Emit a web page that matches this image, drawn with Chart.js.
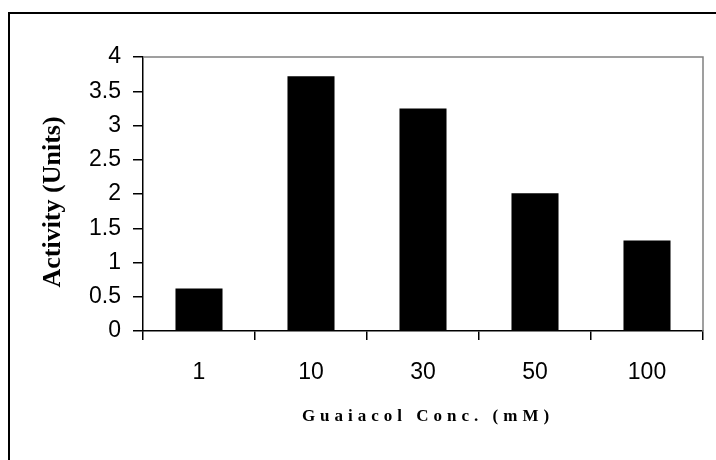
<!DOCTYPE html>
<html>
<head>
<meta charset="utf-8">
<script src="https://cdn.jsdelivr.net/npm/chart.js@4"></script>
<style>
html,body{margin:0;padding:0;background:#fff;}
#wrap{width:716px;height:460px;}
</style>
</head>
<body>
<div id="wrap"><canvas id="c" width="716" height="460"></canvas></div>
<script>
const categories = ['1', '10', '30', '50', '100'];
const activity = [0.62, 3.72, 3.25, 2.01, 1.32];
const yMin = 0, yMax = 4, yStep = 0.5;
const yTitle = 'Activity (Units)';
const xTitle = 'Guaiacol Conc. (mM)';

const framePlugin = {
  id: 'frame',
  beforeDraw(chart) {
    const ctx = chart.ctx;
    ctx.save();
    ctx.fillStyle = '#fff';
    ctx.fillRect(0, 0, chart.width, chart.height);
    ctx.strokeStyle = '#000';
    ctx.lineWidth = 2;
    ctx.strokeRect(9, 13, chart.width + 50, chart.height + 50);
    ctx.restore();
  },
  afterDraw(chart) {
    const ctx = chart.ctx;
    const a = chart.chartArea;
    ctx.save();
    ctx.strokeStyle = '#808080';
    ctx.lineWidth = 1.5;
    ctx.beginPath();
    ctx.moveTo(a.left, a.top);
    ctx.lineTo(a.right, a.top);
    ctx.lineTo(a.right, a.bottom);
    ctx.stroke();
    ctx.fillStyle = '#000';
    ctx.textAlign = 'center';
    ctx.textBaseline = 'middle';
    // y-axis title
    ctx.save();
    ctx.translate(53, (a.top + a.bottom) / 2 + 8);
    ctx.rotate(-Math.PI / 2);
    ctx.font = 'bold 26px "Liberation Serif", "Times New Roman", serif';
    ctx.fillText(yTitle, 0, 0);
    ctx.restore();
    // x-axis title with letter spacing
    ctx.font = 'bold 17px "Liberation Serif", "Times New Roman", serif';
    try { ctx.letterSpacing = '5px'; } catch (e) {}
    ctx.fillText(xTitle, (a.left + a.right) / 2 + 5, 417);
    ctx.restore();
  }
};

new Chart(document.getElementById('c'), {
  type: 'bar',
  data: {
    labels: categories,
    datasets: [{
      data: activity,
      backgroundColor: '#000',
      borderWidth: 0,
      categoryPercentage: 1.0,
      barPercentage: 0.42
    }]
  },
  options: {
    responsive: false,
    devicePixelRatio: 1,
    animation: false,
    layout: { padding: { left: 0, top: 57, right: 13, bottom: 0 } },
    plugins: { legend: { display: false }, tooltip: { enabled: false } },
    scales: {
      x: {
        grid: { display: true, drawOnChartArea: false, drawTicks: true, tickLength: 9, color: '#000', lineWidth: 1.5, offset: true },
        border: { display: true, color: '#000', width: 1.5 },
        ticks: { color: '#000', padding: 19, font: { family: '"Liberation Sans", Arial, sans-serif', size: 23 } },
        afterFit(scale) { scale.height = 129; }
      },
      y: {
        min: yMin, max: yMax,
        grid: { display: true, drawOnChartArea: false, drawTicks: true, tickLength: 10, color: '#000', lineWidth: 1.5 },
        border: { display: true, color: '#000', width: 1.5 },
        ticks: {
          stepSize: yStep, color: '#000', padding: 12,
          font: { family: '"Liberation Sans", Arial, sans-serif', size: 23 },
          callback: (v) => String(v)
        },
        title: { display: false },
        afterFit(scale) { scale.width = 143; }
      }
    }
  },
  plugins: [framePlugin]
});
</script>
</body>
</html>
